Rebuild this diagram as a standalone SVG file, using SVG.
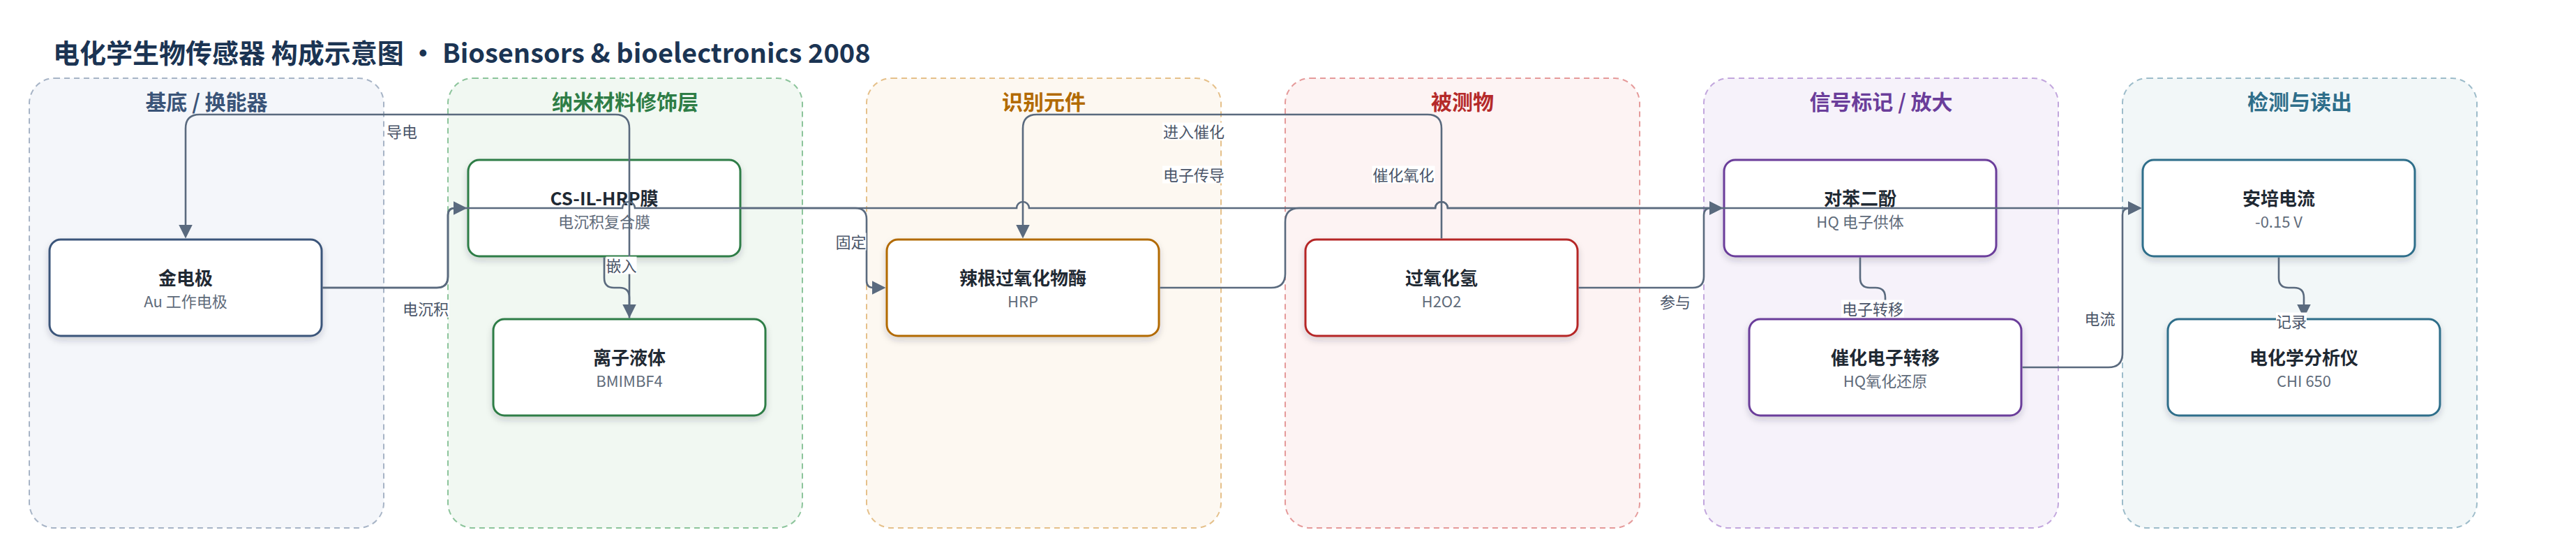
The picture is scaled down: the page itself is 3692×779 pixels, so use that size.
<svg xmlns="http://www.w3.org/2000/svg" width="3692" height="779" viewBox="0 0 3692 779">
<style>
text{font-family:"Noto Sans CJK SC","Noto Sans",sans-serif}
.title{font-size:38px;font-weight:700;fill:#1b3453}
.cl{fill-opacity:1;stroke-width:2;stroke-dasharray:8 6}
.cll{font-size:30px;font-weight:700;text-anchor:middle}
.node rect{fill:#ffffff;stroke-width:3;filter:url(#sh)}
.nt{font-size:26px;font-weight:700;fill:#1f2933;text-anchor:middle}
.ns{font-size:22px;fill:#5f6b7a;text-anchor:middle}
.edge{fill:none;stroke:#5a6a7e;stroke-width:2.6;marker-end:url(#arr)}
.lb rect{fill:#ffffff}
.lb text{font-size:22px;fill:#4a5568;text-anchor:middle}
</style>
<defs>
<filter id="sh" x="-10%" y="-20%" width="120%" height="150%">
<feDropShadow dx="0" dy="5" stdDeviation="5" flood-color="#1f2d3d" flood-opacity="0.18"/>
</filter>
<marker id="arr" viewBox="0 0 20 20" markerWidth="20" markerHeight="20" markerUnits="userSpaceOnUse" refX="16" refY="10" orient="auto">
<path d="M0,0 L20,10 L0,20 z" fill="#5a6a7e"/>
</marker>
</defs>
<rect width="3692" height="779" fill="#ffffff"/>
<text class="title" x="76" y="90">电化学生物传感器 构成示意图 • Biosensors &amp; bioelectronics 2008</text>

<g id="clusters">
<g id="cluster-substrate"><rect class="cl" x="42" y="112" width="508" height="644" rx="36" fill="#f4f6fa" stroke="#a7b4c6"/><text class="cll" x="296" y="157" fill="#3a5478">基底 / 换能器</text></g>
<g id="cluster-nano"><rect class="cl" x="642" y="112" width="508" height="644" rx="36" fill="#f1f8f2" stroke="#8cc49b"/><text class="cll" x="896" y="157" fill="#2e7d46">纳米材料修饰层</text></g>
<g id="cluster-recog"><rect class="cl" x="1242" y="112" width="508" height="644" rx="36" fill="#fdf8f1" stroke="#e5c08a"/><text class="cll" x="1496" y="157" fill="#b26a00">识别元件</text></g>
<g id="cluster-analyte"><rect class="cl" x="1842" y="112" width="508" height="644" rx="36" fill="#fdf3f3" stroke="#e59a9a"/><text class="cll" x="2096" y="157" fill="#b52a2a">被测物</text></g>
<g id="cluster-signal"><rect class="cl" x="2442" y="112" width="508" height="644" rx="36" fill="#f6f2fa" stroke="#c2a6dd"/><text class="cll" x="2696" y="157" fill="#6a3d9a">信号标记 / 放大</text></g>
<g id="cluster-readout"><rect class="cl" x="3042" y="112" width="508" height="644" rx="36" fill="#f2f7f8" stroke="#9dbcca"/><text class="cll" x="3296" y="157" fill="#2e6e8a">检测与读出</text></g>
</g>

<g id="n-au" class="node"><rect x="71" y="343" width="390" height="138" rx="16" stroke="#3b557a"/><text class="nt" x="266" y="408">金电极</text><text class="ns" x="266" y="440">Au 工作电极</text></g>
<g id="n-film" class="node"><rect x="671" y="229" width="390" height="138" rx="16" stroke="#2e7d46"/><text class="nt" x="866" y="294">CS-IL-HRP膜</text><text class="ns" x="866" y="326">电沉积复合膜</text></g>
<g id="n-il" class="node"><rect x="707" y="457" width="390" height="138" rx="16" stroke="#2e7d46"/><text class="nt" x="902" y="522">离子液体</text><text class="ns" x="902" y="554">BMIMBF4</text></g>
<g id="n-hrp" class="node"><rect x="1271" y="343" width="390" height="138" rx="16" stroke="#b26a00"/><text class="nt" x="1466" y="408">辣根过氧化物酶</text><text class="ns" x="1466" y="440">HRP</text></g>
<g id="n-h2o2" class="node"><rect x="1871" y="343" width="390" height="138" rx="16" stroke="#b52626"/><text class="nt" x="2066" y="408">过氧化氢</text><text class="ns" x="2066" y="440">H2O2</text></g>
<g id="n-hq" class="node"><rect x="2471" y="229" width="390" height="138" rx="16" stroke="#6a3d9a"/><text class="nt" x="2666" y="294">对苯二酚</text><text class="ns" x="2666" y="326">HQ 电子供体</text></g>
<g id="n-cat" class="node"><rect x="2507" y="457" width="390" height="138" rx="16" stroke="#6a3d9a"/><text class="nt" x="2702" y="522">催化电子转移</text><text class="ns" x="2702" y="554">HQ氧化还原</text></g>
<g id="n-amp" class="node"><rect x="3071" y="229" width="390" height="138" rx="16" stroke="#2e6e8a"/><text class="nt" x="3266" y="294">安培电流</text><text class="ns" x="3266" y="326">-0.15 V</text></g>
<g id="n-chi" class="node"><rect x="3107" y="457" width="390" height="138" rx="16" stroke="#2e6e8a"/><text class="nt" x="3302" y="522">电化学分析仪</text><text class="ns" x="3302" y="554">CHI 650</text></g>

<g id="connectors">
<path class="edge" d="M902,455.5 V184 Q902,164 882,164 H286 Q266,164 266,184 V337.5"/>
<path class="edge" d="M462.5,412 H626 Q642,412 642,396 V308 Q642,298 652,298 H665.5"/>
<path class="edge" d="M462.5,412 H626 Q642,412 642,396 V308 Q642,298 652,298 H892 A9,9 0 0 1 910,298 H1457 A9,9 0 0 1 1475,298 H2057 A9,9 0 0 1 2075,298 H3065.5"/>
<path class="edge" d="M866,368.5 V398 Q866,412 880,412 H888 Q902,412 902,426 V451.5"/>
<path class="edge" d="M1062.5,298 H1226 Q1242,298 1242,314 V402 Q1242,412 1252,412 H1265.5"/>
<path class="edge" d="M2066,341.5 V184 Q2066,164 2046,164 H1486 Q1466,164 1466,184 V337.5"/>
<path class="edge" d="M1662.5,412 H1822 Q1842,412 1842,392 V318 Q1842,298 1862,298 H2057 A9,9 0 0 1 2075,298 H2465.5"/>
<path class="edge" d="M2262.5,412 H2426 Q2442,412 2442,396 V308 Q2442,298 2452,298 H2465.5"/>
<path class="edge" d="M2666,368.5 V398 Q2666,412 2680,412 H2688 Q2702,412 2702,426 V451.5"/>
<path class="edge" d="M2898.5,526 H3022 Q3042,526 3042,506 V308 Q3042,298 3052,298 H3065.5"/>
<path class="edge" d="M3266,368.5 V398 Q3266,412 3280,412 H3288 Q3302,412 3302,426 V451.5"/>
</g>

<g id="edge-labels">
<g class="lb"><rect x="553" y="175.5" width="46" height="25"/><text x="576" y="196.5">导电</text></g>
<g class="lb"><rect x="576" y="429.5" width="68" height="25"/><text x="610" y="450.5">电沉积</text></g>
<g class="lb"><rect x="868.5" y="367.5" width="44" height="25"/><text x="890.5" y="388.5">嵌入</text></g>
<g class="lb"><rect x="1197.5" y="333.5" width="44" height="25"/><text x="1219.5" y="354.5">固定</text></g>
<g class="lb"><rect x="1666" y="175.5" width="90" height="25"/><text x="1711" y="196.5">进入催化</text></g>
<g class="lb"><rect x="1666" y="237.5" width="90" height="25"/><text x="1711" y="258.5">电子传导</text></g>
<g class="lb"><rect x="1966.5" y="237.5" width="90" height="25"/><text x="2011.5" y="258.5">催化氧化</text></g>
<g class="lb"><rect x="2379" y="419.5" width="44" height="25"/><text x="2401" y="440.5">参与</text></g>
<g class="lb"><rect x="2639" y="429.5" width="90" height="25"/><text x="2684" y="450.5">电子转移</text></g>
<g class="lb"><rect x="2987.5" y="443.5" width="44" height="25"/><text x="3009.5" y="464.5">电流</text></g>
<g class="lb"><rect x="3262" y="447.5" width="44" height="25"/><text x="3284" y="468.5">记录</text></g>
</g>
</svg>
